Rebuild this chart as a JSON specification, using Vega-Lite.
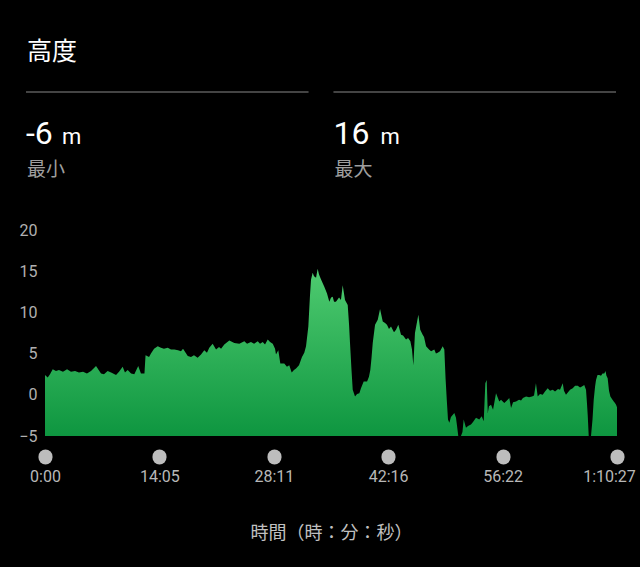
{
  "$schema": "https://vega.github.io/schema/vega-lite/v6.json",
  "background": "#000000",
  "padding": {"left": 18, "top": 40, "right": 8, "bottom": 40},
  "config": {"view": {"stroke": null}, "font": "Roboto"},
  "spacing": 42,
  "datasets": {
    "stats": [
      {"stat": "最小", "value": "-6"},
      {"stat": "最大", "value": "16"}
    ],
    "elev": [
      {"t":0,"h":2.4},{"t":20,"h":2.1},{"t":37,"h":2.5},{"t":57,"h":3.1},{"t":81,"h":2.9},{"t":103,"h":3.0},{"t":133,"h":2.8},{"t":163,"h":3.1},{"t":192,"h":2.8},{"t":222,"h":2.9},{"t":251,"h":2.7},{"t":281,"h":2.8},{"t":310,"h":2.6},{"t":340,"h":2.9},{"t":377,"h":3.5},{"t":414,"h":2.6},{"t":436,"h":2.5},{"t":463,"h":2.9},{"t":488,"h":2.7},{"t":525,"h":2.4},{"t":547,"h":2.8},{"t":574,"h":3.4},{"t":591,"h":2.7},{"t":611,"h":3.0},{"t":636,"h":2.6},{"t":660,"h":2.5},{"t":689,"h":3.5},{"t":709,"h":2.6},{"t":735,"h":2.6},{"t":743,"h":4.8},{"t":769,"h":4.6},{"t":783,"h":5.0},{"t":806,"h":5.6},{"t":833,"h":5.9},{"t":857,"h":5.7},{"t":879,"h":5.6},{"t":907,"h":5.7},{"t":931,"h":5.5},{"t":956,"h":5.5},{"t":983,"h":5.4},{"t":1005,"h":5.3},{"t":1020,"h":5.6},{"t":1055,"h":4.7},{"t":1079,"h":4.6},{"t":1101,"h":4.8},{"t":1128,"h":4.5},{"t":1153,"h":4.9},{"t":1177,"h":5.4},{"t":1197,"h":5.1},{"t":1214,"h":5.7},{"t":1239,"h":6.2},{"t":1264,"h":5.5},{"t":1286,"h":5.8},{"t":1301,"h":5.6},{"t":1325,"h":6.1},{"t":1362,"h":6.6},{"t":1399,"h":6.3},{"t":1436,"h":6.2},{"t":1473,"h":6.5},{"t":1493,"h":6.2},{"t":1522,"h":6.4},{"t":1545,"h":6.2},{"t":1572,"h":6.5},{"t":1589,"h":6.2},{"t":1609,"h":6.4},{"t":1626,"h":6.1},{"t":1646,"h":6.7},{"t":1663,"h":6.4},{"t":1683,"h":6.2},{"t":1700,"h":5.6},{"t":1707,"h":4.9},{"t":1724,"h":5.4},{"t":1739,"h":3.8},{"t":1768,"h":3.8},{"t":1788,"h":3.4},{"t":1805,"h":3.6},{"t":1823,"h":2.7},{"t":1840,"h":3.0},{"t":1855,"h":3.2},{"t":1877,"h":3.6},{"t":1899,"h":4.6},{"t":1916,"h":5.1},{"t":1929,"h":5.9},{"t":1946,"h":8.3},{"t":1958,"h":12.0},{"t":1966,"h":14.0},{"t":1978,"h":14.8},{"t":1988,"h":14.4},{"t":2003,"h":14.2},{"t":2015,"h":15.3},{"t":2025,"h":14.6},{"t":2040,"h":14.0},{"t":2064,"h":13.1},{"t":2084,"h":12.3},{"t":2101,"h":11.3},{"t":2114,"h":11.8},{"t":2126,"h":11.9},{"t":2136,"h":11.3},{"t":2150,"h":11.3},{"t":2173,"h":11.8},{"t":2187,"h":11.5},{"t":2200,"h":13.3},{"t":2217,"h":11.5},{"t":2237,"h":10.9},{"t":2247,"h":8.5},{"t":2254,"h":6.3},{"t":2265,"h":3.0},{"t":2274,"h":0.6},{"t":2291,"h":-0.2},{"t":2306,"h":0.1},{"t":2323,"h":0.2},{"t":2335,"h":0.8},{"t":2355,"h":1.6},{"t":2380,"h":1.6},{"t":2394,"h":2.2},{"t":2404,"h":3.0},{"t":2413,"h":4.5},{"t":2422,"h":6.3},{"t":2439,"h":8.5},{"t":2459,"h":9.1},{"t":2476,"h":10.4},{"t":2496,"h":8.9},{"t":2513,"h":8.7},{"t":2527,"h":8.5},{"t":2542,"h":8.0},{"t":2557,"h":8.3},{"t":2579,"h":7.6},{"t":2594,"h":7.9},{"t":2611,"h":8.5},{"t":2631,"h":7.3},{"t":2646,"h":7.2},{"t":2668,"h":6.7},{"t":2683,"h":6.9},{"t":2700,"h":6.5},{"t":2712,"h":5.5},{"t":2722,"h":3.6},{"t":2734,"h":7.5},{"t":2759,"h":9.7},{"t":2773,"h":7.9},{"t":2791,"h":7.3},{"t":2801,"h":7.0},{"t":2816,"h":5.9},{"t":2838,"h":5.5},{"t":2853,"h":5.3},{"t":2877,"h":5.5},{"t":2889,"h":5.0},{"t":2902,"h":5.1},{"t":2919,"h":5.3},{"t":2939,"h":5.9},{"t":2951,"h":5.5},{"t":2960,"h":2.0},{"t":2969,"h":-0.6},{"t":2978,"h":-3.0},{"t":2988,"h":-3.4},{"t":3000,"h":-2.7},{"t":3025,"h":-2.2},{"t":3037,"h":-2.8},{"t":3045,"h":-3.8},{"t":3054,"h":-5.0},{"t":3074,"h":-5.0},{"t":3085,"h":-4.5},{"t":3094,"h":-3.0},{"t":3111,"h":-4.0},{"t":3126,"h":-3.8},{"t":3148,"h":-3.6},{"t":3163,"h":-3.3},{"t":3185,"h":-2.8},{"t":3209,"h":-3.0},{"t":3227,"h":-2.6},{"t":3242,"h":-3.2},{"t":3254,"h":1.4},{"t":3264,"h":1.8},{"t":3272,"h":-2.2},{"t":3281,"h":-1.4},{"t":3296,"h":-1.2},{"t":3311,"h":-1.8},{"t":3333,"h":0.2},{"t":3357,"h":-0.8},{"t":3370,"h":-0.6},{"t":3394,"h":-1.0},{"t":3414,"h":-0.7},{"t":3431,"h":-0.4},{"t":3444,"h":-1.6},{"t":3459,"h":-0.9},{"t":3481,"h":-0.8},{"t":3503,"h":-0.6},{"t":3518,"h":-0.7},{"t":3532,"h":-0.4},{"t":3555,"h":-0.2},{"t":3577,"h":-0.3},{"t":3599,"h":-0.2},{"t":3614,"h":-0.1},{"t":3628,"h":1.4},{"t":3641,"h":-0.2},{"t":3658,"h":0.1},{"t":3678,"h":0.0},{"t":3695,"h":0.4},{"t":3715,"h":0.8},{"t":3732,"h":0.5},{"t":3752,"h":0.6},{"t":3769,"h":0.4},{"t":3791,"h":0.7},{"t":3806,"h":0.6},{"t":3826,"h":1.4},{"t":3835,"h":0.5},{"t":3850,"h":0.0},{"t":3865,"h":0.3},{"t":3880,"h":0.6},{"t":3900,"h":0.8},{"t":3917,"h":1.1},{"t":3937,"h":1.1},{"t":3954,"h":0.9},{"t":3968,"h":1.0},{"t":3985,"h":1.2},{"t":3998,"h":0.6},{"t":4005,"h":-1.0},{"t":4011,"h":-2.6},{"t":4018,"h":-5.0},{"t":4035,"h":-5.0},{"t":4046,"h":-3.0},{"t":4055,"h":-0.6},{"t":4065,"h":1.0},{"t":4072,"h":1.8},{"t":4083,"h":2.4},{"t":4096,"h":2.4},{"t":4109,"h":2.3},{"t":4120,"h":2.6},{"t":4133,"h":2.6},{"t":4142,"h":2.9},{"t":4149,"h":2.3},{"t":4158,"h":2.0},{"t":4168,"h":0.5},{"t":4178,"h":-0.2},{"t":4190,"h":-0.5},{"t":4203,"h":-0.8},{"t":4212,"h":-1.0},{"t":4220,"h":-1.2},{"t":4227,"h":-1.5}
    ]
  },
  "vconcat": [
    {
      "width": 572,
      "height": 20,
      "data": {"name": "stats"},
      "title": {"text": "高度", "anchor": "start", "frame": "group", "color": "#ffffff", "fontSize": 25, "font": "Noto Sans CJK JP", "fontWeight": "normal", "dx": -18, "offset": -3, "baseline": "alphabetic"},
      "encoding": {
        "x": {"field": "stat", "type": "nominal", "sort": null, "bandPosition": 0, "axis": null,
              "scale": {"domain": ["最小", "最大"], "range": [-19, 571], "paddingInner": 0.081, "paddingOuter": 0}}
      },
      "layer": [
        {"mark": {"type": "rule", "color": "#444444", "strokeWidth": 2},
         "encoding": {"x2": {"field": "stat", "bandPosition": 1}}},
        {"mark": {"type": "text", "align": "left", "baseline": "alphabetic", "font": "Roboto", "fontSize": 32, "color": "#ffffff", "dy": 52},
         "encoding": {"text": {"field": "value", "type": "nominal"}}},
        {"mark": {"type": "text", "align": "left", "baseline": "alphabetic", "font": "Roboto", "fontSize": 22, "color": "#ffffff", "dy": 52,
                  "dx": {"expr": "(indexof(datum.value, '-') == 0 ? -11 : 0) + length(datum.value) * 18 + 11"}},
         "encoding": {"text": {"value": "m"}}},
        {"mark": {"type": "text", "align": "left", "baseline": "alphabetic", "font": "Noto Sans CJK JP", "fontSize": 19, "color": "#9e9e9e", "dy": 84, "dx": 1},
         "encoding": {"text": {"field": "stat", "type": "nominal"}}}
      ]
    },
    {
      "width": 572,
      "height": 206,
      "data": {"name": "elev"},
      "mark": {"type": "area", "interpolate": "linear", "clip": true,
               "color": {"gradient": "linear", "x1": 0, "y1": 0, "x2": 0, "y2": 1,
                         "stops": [{"offset": 0, "color": "#4fcb70"}, {"offset": 1, "color": "#0e9640"}]}},
      "encoding": {
        "x": {"field": "t", "type": "quantitative",
              "scale": {"domain": [0, 4227], "nice": false, "zero": false},
              "axis": {"values": [0, 845, 1691, 2536, 3382, 4227],
                       "labelExpr": "floor(datum.value/3600) > 0 ? floor(datum.value/3600) + ':' + (floor(datum.value%3600/60) < 10 ? '0' : '') + floor(datum.value%3600/60) + ':' + (datum.value%60 < 10 ? '0' : '') + datum.value%60 : floor(datum.value/60) + ':' + (datum.value%60 < 10 ? '0' : '') + datum.value%60",
                       "domain": false, "grid": false, "ticks": true,
                       "tickColor": "#bdbdbd", "tickWidth": 14, "tickCap": "round", "tickSize": 1,
                       "offset": 20, "labelPadding": 11,
                       "labelColor": "#b8b8b8", "labelFontSize": 16, "labelFont": "Roboto",
                       "labelFlush": false, "labelOverlap": false,
                       "labelOffset": {"condition": {"test": "datum.value > 4000", "value": -8}, "value": 0},
                       "title": "時間（時：分：秒）", "titleFont": "Noto Sans CJK JP", "titleFontSize": 18,
                       "titleFontWeight": "normal", "titleColor": "#c0c0c0", "titlePadding": 40}},
        "y": {"field": "h", "type": "quantitative",
              "scale": {"domain": [-5, 20], "nice": false},
              "axis": {"values": [-5, 0, 5, 10, 15, 20], "domain": false, "ticks": false, "grid": false,
                       "labelColor": "#b0b0b0", "labelFontSize": 16, "labelFont": "Roboto", "labelPadding": 8, "title": null}},
        "y2": {"datum": -5}
      }
    }
  ]
}
